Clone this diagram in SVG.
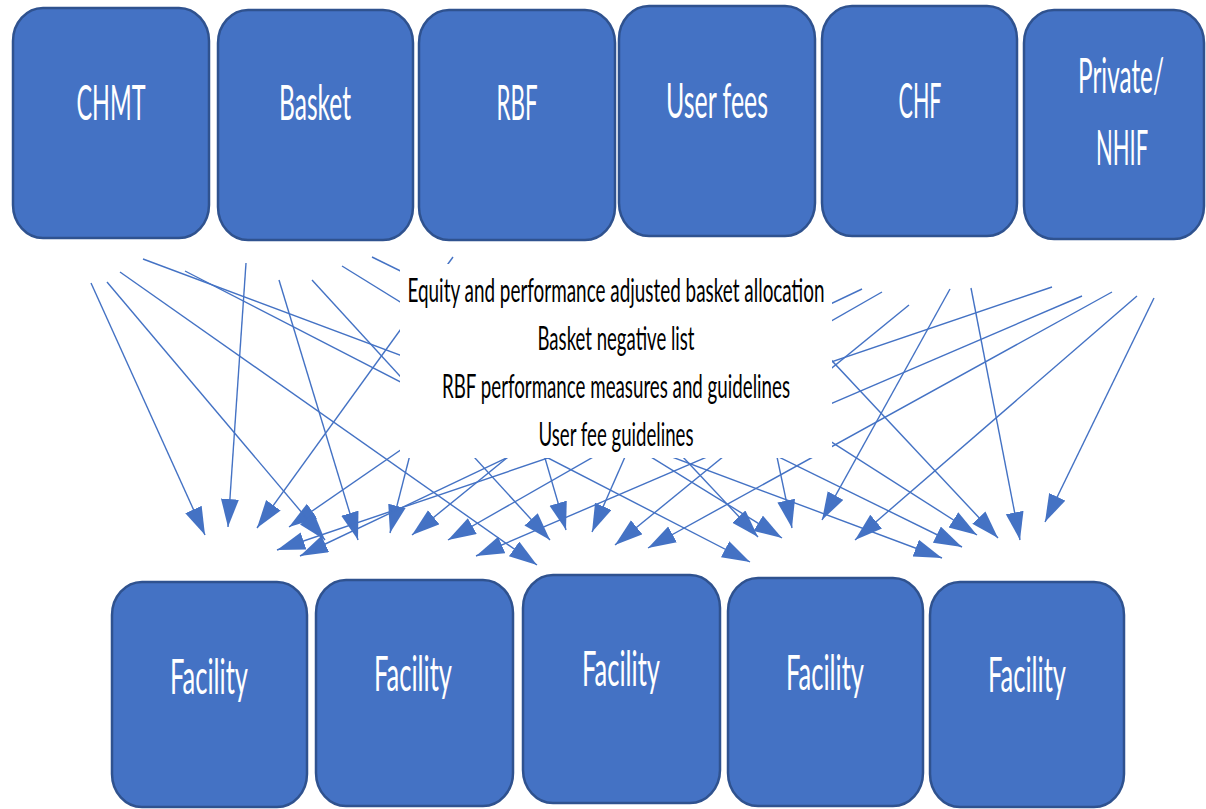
<svg xmlns="http://www.w3.org/2000/svg" width="1206" height="809" viewBox="0 0 1206 809">
<defs>
<style>
.box{fill:#4472C4;stroke:#2F528F;stroke-width:2.5}
.lbl{font-family:Lato,"Liberation Sans",sans-serif;font-size:48px;fill:#FFFFFF;text-anchor:middle}
.mid{font-family:Lato,"Liberation Sans",sans-serif;font-size:32px;fill:#000000;text-anchor:middle}
.cn line{stroke:#4472C4;stroke-width:1.4;marker-end:url(#ah)}
</style>
<marker id="ah" markerUnits="userSpaceOnUse" markerWidth="30" markerHeight="20" refX="28" refY="9" orient="auto">
<path d="M0,0 L28,9 L0,18 z" fill="#4472C4"/>
</marker>
</defs>
<rect width="1206" height="809" fill="#FFFFFF"/>
<g id="connectors" class="cn">
<line x1="91" y1="283" x2="205" y2="535"/>
<line x1="246" y1="263" x2="228" y2="527"/>
<line x1="453" y1="257" x2="257" y2="528"/>
<line x1="560" y1="340" x2="289" y2="527"/>
<line x1="107" y1="282" x2="325" y2="540"/>
<line x1="279" y1="280" x2="358" y2="540"/>
<line x1="424" y1="400" x2="390" y2="533"/>
<line x1="1052" y1="287" x2="277" y2="550"/>
<line x1="862" y1="289" x2="300" y2="556"/>
<line x1="578" y1="400" x2="412" y2="535"/>
<line x1="882" y1="292" x2="448" y2="540"/>
<line x1="1082" y1="296" x2="476" y2="556"/>
<line x1="120" y1="272" x2="537" y2="565"/>
<line x1="312" y1="280" x2="550" y2="540"/>
<line x1="528" y1="400" x2="566" y2="530"/>
<line x1="650" y1="400" x2="592" y2="532"/>
<line x1="909" y1="305" x2="615" y2="545"/>
<line x1="1112" y1="292" x2="648" y2="548"/>
<line x1="185" y1="271" x2="750" y2="562"/>
<line x1="620" y1="390" x2="758" y2="537"/>
<line x1="342" y1="266" x2="782" y2="538"/>
<line x1="765" y1="400" x2="792" y2="528"/>
<line x1="950" y1="289" x2="822" y2="520"/>
<line x1="1137" y1="296" x2="855" y2="540"/>
<line x1="143" y1="259" x2="942" y2="558"/>
<line x1="372" y1="257" x2="962" y2="547"/>
<line x1="700" y1="358" x2="977" y2="535"/>
<line x1="760" y1="284" x2="998" y2="538"/>
<line x1="971" y1="288" x2="1020" y2="540"/>
<line x1="1154" y1="298" x2="1045" y2="522"/>
</g>
<g id="guidelines">
<rect x="400" y="264" width="432" height="194" fill="#FFFFFF"/>
<text class="mid" x="616" y="302" textLength="417" lengthAdjust="spacingAndGlyphs">Equity and performance adjusted basket allocation</text>
<text class="mid" x="616" y="350" textLength="157" lengthAdjust="spacingAndGlyphs">Basket negative list</text>
<text class="mid" x="616" y="398" textLength="348" lengthAdjust="spacingAndGlyphs">RBF performance measures and guidelines</text>
<text class="mid" x="616" y="446" textLength="155" lengthAdjust="spacingAndGlyphs">User fee guidelines</text>
</g>
<g id="chmt"><rect class="box" x="13" y="8" width="196" height="230" rx="30" ry="33"/><text class="lbl" x="111" y="120" textLength="69" lengthAdjust="spacingAndGlyphs">CHMT</text></g>
<g id="basket"><rect class="box" x="218" y="10" width="195" height="230" rx="30" ry="33"/><text class="lbl" x="315" y="120" textLength="72" lengthAdjust="spacingAndGlyphs">Basket</text></g>
<g id="rbf"><rect class="box" x="419" y="10" width="196" height="230" rx="30" ry="33"/><text class="lbl" x="517" y="120" textLength="41" lengthAdjust="spacingAndGlyphs">RBF</text></g>
<g id="userfees"><rect class="box" x="619" y="6" width="196" height="230" rx="30" ry="33"/><text class="lbl" x="717" y="118" textLength="102" lengthAdjust="spacingAndGlyphs">User fees</text></g>
<g id="chf"><rect class="box" x="822" y="6" width="195" height="230" rx="30" ry="33"/><text class="lbl" x="920" y="118" textLength="43" lengthAdjust="spacingAndGlyphs">CHF</text></g>
<g id="private-nhif"><rect class="box" x="1024" y="10" width="180" height="229" rx="30" ry="33"/><text class="lbl" transform="translate(1121,93) scale(0.55,1)" x="0" y="0" textLength="156" lengthAdjust="spacingAndGlyphs">Private/</text><text class="lbl" transform="translate(1122,165) scale(0.55,1)" x="0" y="0" textLength="95" lengthAdjust="spacingAndGlyphs">NHIF</text></g>
<g id="facility1"><rect class="box" x="112" y="582" width="195" height="225" rx="30" ry="33"/><text class="lbl" x="209" y="694" textLength="78" lengthAdjust="spacingAndGlyphs">Facility</text></g>
<g id="facility2"><rect class="box" x="316" y="580" width="197" height="226" rx="30" ry="33"/><text class="lbl" x="413" y="691" textLength="78" lengthAdjust="spacingAndGlyphs">Facility</text></g>
<g id="facility3"><rect class="box" x="523" y="575" width="197" height="228" rx="30" ry="33"/><text class="lbl" x="621" y="686" textLength="78" lengthAdjust="spacingAndGlyphs">Facility</text></g>
<g id="facility4"><rect class="box" x="728" y="578" width="195" height="228" rx="30" ry="33"/><text class="lbl" x="825" y="690" textLength="78" lengthAdjust="spacingAndGlyphs">Facility</text></g>
<g id="facility5"><rect class="box" x="930" y="582" width="194" height="225" rx="30" ry="33"/><text class="lbl" x="1027" y="692" textLength="78" lengthAdjust="spacingAndGlyphs">Facility</text></g>
</svg>
